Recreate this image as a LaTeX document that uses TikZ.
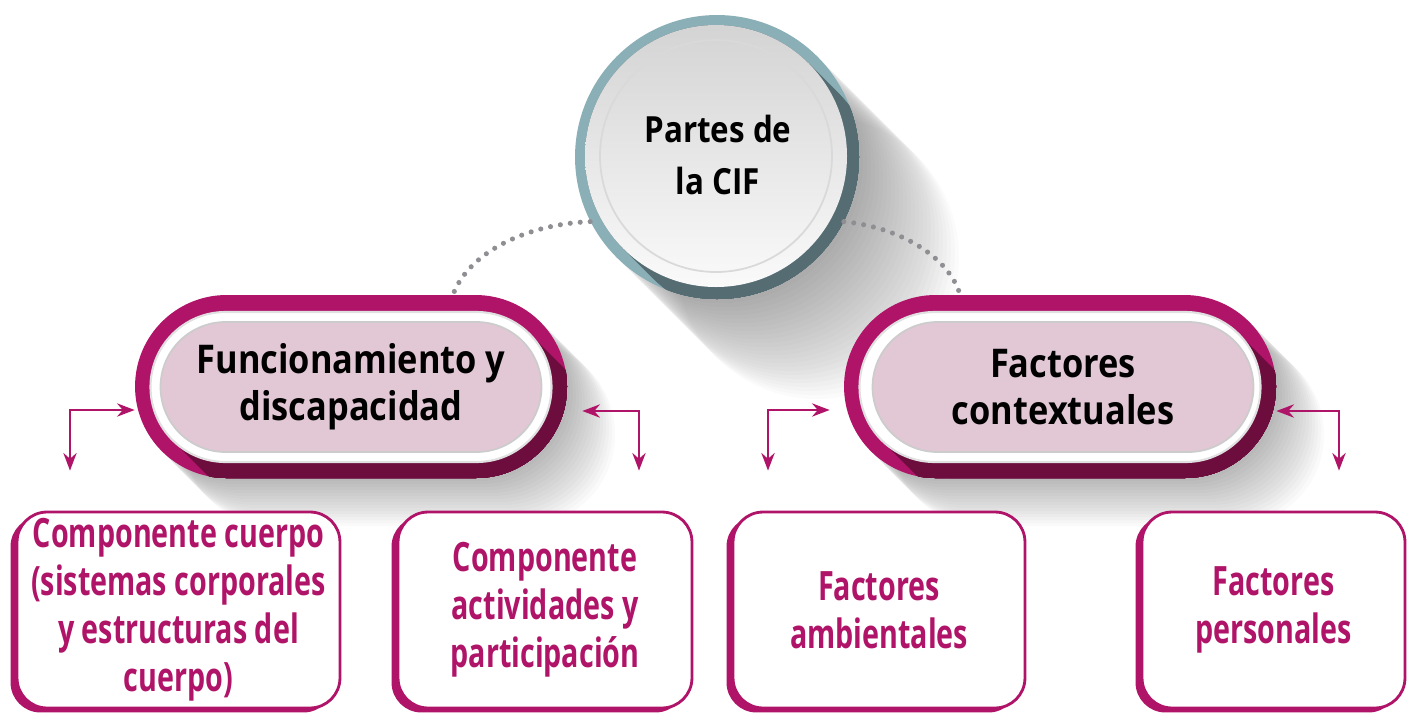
\documentclass[tikz,border=0pt]{standalone}
\usepackage{fontspec}
\setmainfont{Open Sans}
\newfontfamily\headfont{Open Sans}[FakeStretch=0.87]
\newfontfamily\leaffont{Open Sans}[FakeStretch=0.71]
\usetikzlibrary{arrows.meta,shapes.misc,shadows}

\definecolor{cifmag}{RGB}{176,20,104}
\definecolor{cifdark}{RGB}{108,13,62}
\definecolor{cifpink}{RGB}{226,200,213}
\definecolor{cifteal}{RGB}{138,175,182}
\definecolor{cifslate}{RGB}{84,108,114}
\definecolor{cifdot}{RGB}{142,142,147}

\tikzset{
  link/.style={draw=cifmag, line width=1.6pt,
    {Stealth[length=10pt,width=7.5pt]}-{Stealth[length=10pt,width=7.5pt]}},
  dots/.style={draw=cifdot, line width=2.9pt, line cap=round, dash pattern=on 0pt off 5.7pt},
  ringpill/.style={rounded rectangle, fill=cifmag, inner sep=0pt,
    minimum width=8.64cm, minimum height=3.66cm},
  pinkpill/.style={rounded rectangle, fill=cifpink, draw=black!20, line width=1pt,
    inner sep=0pt, minimum width=7.62cm, minimum height=2.6cm, align=center,
    font=\headfont\bfseries\fontsize{22.5}{26.7}\selectfont},
  leafbox/.style={rectangle, rounded corners=0.6cm, draw=cifmag, line width=1.6pt,
    fill=white, text=cifmag, align=center, inner sep=0pt, minimum height=3.92cm,
    font=\leaffont\bfseries\fontsize{23}{27.3}\selectfont,
    general shadow={shadow xshift=-0.13cm, shadow yshift=-0.09cm, fill=cifmag}},
}

\begin{document}
\begin{tikzpicture}[x=0.02cm,y=-0.02cm]
\useasboundingbox (0,0) rectangle (1407,714);
%
% long shadows
\foreach \t in {4,8,...,100}
  \fill[black, opacity=0.014] (717+\t,157+\t) circle [radius=142];
\foreach \t in {3,6,...,48} {
  \fill[black, opacity=0.018, rounded corners=1.82cm] (135+\t,295+\t) rectangle (567+\t,478+\t);
  \fill[black, opacity=0.018, rounded corners=1.82cm] (844+\t,295+\t) rectangle (1276+\t,478+\t);
}
%
% circle
\node[circle, fill=cifteal, minimum size=5.68cm, inner sep=0pt] (cif) at (717,157) {};
\begin{scope}
  \clip (717,157) circle [radius=142];
  \foreach \t in {0,2,...,30}
    \fill[cifslate] (716+\t,156+\t) circle [radius=131];
\end{scope}
\shade[top color=black!17, bottom color=black!2] (716,156) circle [radius=131];
\draw[black!15, line width=1pt] (716,156) circle [radius=116];
\node[font=\headfont\bfseries\fontsize{20.5}{29.6}\selectfont, align=center] (ciftext) at (718,155) {Partes de\\la CIF};
%
% left pill
\node[ringpill] (funcring) at (351,386.5) {};
\begin{scope}
  \clip[rounded corners=1.82cm] (135,295) rectangle (567,478);
  \foreach \t in {0,2,...,36}
    \fill[cifdark, rounded corners=1.5cm] (150.5+\t,312+\t) rectangle (551.5+\t,462+\t);
\end{scope}
\fill[white, draw=black!12, line width=1.2pt, rounded corners=1.5cm] (150.5,312) rectangle (551.5,462);
\node[pinkpill] (func) at (351,387) {Funcionamiento y\\discapacidad};
%
% right pill
\node[ringpill] (ctxring) at (1060,386.5) {};
\begin{scope}
  \clip[rounded corners=1.82cm] (844,295) rectangle (1276,478);
  \foreach \t in {0,2,...,36}
    \fill[cifdark, rounded corners=1.5cm] (859.5+\t,312+\t) rectangle (1260.5+\t,462+\t);
\end{scope}
\fill[white, draw=black!12, line width=1.2pt, rounded corners=1.5cm] (859.5,312) rectangle (1260.5,462);
\node[pinkpill] (ctx) at (1063,387) {Factores\\contextuales};
%
% dotted links
\draw[dots] (cif.207) .. controls (530,224) and (470,250) .. ([xshift=2.04cm]funcring.north);
\draw[dots] (cif.-27) .. controls (905,228) and (950,260) .. ([xshift=-2cm]ctxring.north);
%
% boxes
\node[leafbox, minimum width=6.46cm] (body) at (178.5,610) {Componente cuerpo\\(sistemas corporales\\y estructuras del\\cuerpo)};
\node[leafbox, minimum width=5.88cm] (activ) at (545,610) {Componente\\actividades y\\participación};
\node[leafbox, minimum width=5.84cm] (envir) at (879,610) {Factores\\ambientales};
\node[leafbox, minimum width=5.26cm] (pers) at (1273.5,610) {Factores\\personales};
%
% arrows
\coordinate (k1) at (70,410);
\coordinate (k2) at (639,411);
\coordinate (k3) at (768,410);
\coordinate (k4) at (1339,411);
\draw[link, shorten >=0.8cm] (funcring.west |- k1) -- (k1) -- (k1 |- body.north);
\draw[link, shorten <=0.3cm, shorten >=0.8cm] (funcring.east |- k2) -- (k2) -- (k2 |- activ.north);
\draw[link, shorten <=0.28cm, shorten >=0.8cm] (ctxring.west |- k3) -- (k3) -- (k3 |- envir.north);
\draw[link, shorten >=0.8cm] (ctxring.east |- k4) -- (k4) -- (k4 |- pers.north);
%
\end{tikzpicture}
\end{document}
